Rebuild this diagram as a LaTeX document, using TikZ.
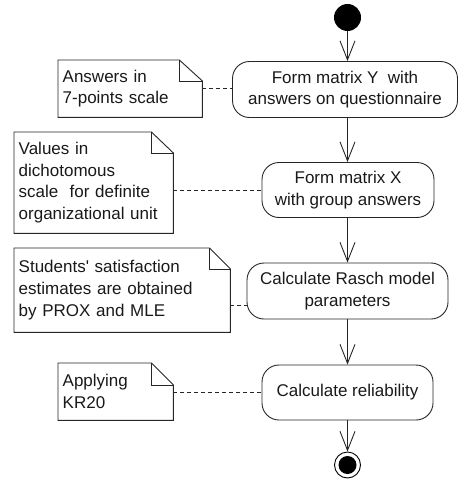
\documentclass[tikz,border=0pt]{standalone}
\usepackage{fontspec}
\setmainfont{Liberation Sans}
\usetikzlibrary{arrows.meta}
\newcommand{\dognote}[3]{%
  \draw[noteline] (#1.north west) -- ([xshift=-#2pt]#1.north east) -- ([yshift=-#3pt]#1.north east) -- (#1.south east) -- (#1.south west) -- cycle;
  \draw[noteline] ([xshift=-#2pt]#1.north east) -- ([xshift=-#2pt,yshift=-#3pt]#1.north east) -- ([yshift=-#3pt]#1.north east);
}
\begin{document}
\begin{tikzpicture}[x=1pt,y=-1pt,
  txt/.style={font=\fontsize{17pt}{21.7pt}\selectfont, text=black!90},
  actbox/.style={txt, draw=black!85, line width=0.9pt, rounded corners=17pt, align=center, inner sep=0pt},
  notebox/.style={txt, inner xsep=4.5pt, inner ysep=0pt, align=left},
  noteline/.style={draw=black!85, line width=0.9pt, line join=miter},
  flow/.style={draw=black!85, line width=0.9pt, -{Straight Barb[length=19pt,width=15pt,line width=0.9pt]}},
  link/.style={draw=black!85, line width=0.9pt, dash pattern=on 4pt off 3pt}]
\useasboundingbox (0,0) rectangle (459,479);

% start and end
\node[circle, fill=black, minimum size=27pt, inner sep=0pt] (start) at (347.5,17.5) {};
\node[circle, draw=black, line width=0.9pt, minimum size=26pt, inner sep=0pt] (end) at (347.5,465) {};
\fill[black] (end.center) circle[radius=9pt];

% activities
\node[actbox, minimum width=225pt, minimum height=56pt] (b1) at (345,89.5) {Form matrix Y\ \ with\\answers on questionnaire};
\node[actbox, minimum width=172pt, minimum height=55pt] (b2) at (348,190) {Form matrix X\\with group answers};
\node[actbox, minimum width=201pt, minimum height=56pt] (b3) at (347.5,291) {Calculate Rasch model\\parameters};
\node[actbox, minimum width=171pt, minimum height=55pt] (b4) at (347.5,392.5) {Calculate reliability};

% notes
\node[notebox, text width=135pt, minimum height=57pt, anchor=north west] (n1) at (58,60) {Answers in\\7-points scale};
\node[notebox, text width=150pt, minimum height=101pt, anchor=north west] (n2) at (14,132) {Values in\\dichotomous\\scale\ \ for definite\\organizational unit};
\node[notebox, text width=207pt, minimum height=84pt, anchor=north west] (n3) at (14,248) {Students\textquotesingle\ satisfaction\\estimates are obtained\\by PROX and MLE};
\node[notebox, text width=106pt, minimum height=57pt, anchor=north west] (n4) at (58,363) {Applying\\KR20};

\dognote{n1}{23}{21}
\dognote{n2}{22}{21}
\dognote{n3}{21}{21}
\dognote{n4}{22}{22}

% flows
\draw[flow] (start) -- (start |- b1.north);
\draw[flow] (b1.south -| start.south) -- (start.south |- b2.north);
\draw[flow] (b2.south -| start.south) -- (start.south |- b3.north);
\draw[flow] (b3.south -| start.south) -- (start.south |- b4.north);
\draw[flow] (b4.south -| start.south) -- (end);

% note links
\draw[link] (n1.east) -- (n1.east -| b1.west);
\draw[link] (b2.west -| n2.east) -- (b2.west);
\draw[link] ([yshift=-15pt]n3.east) -- ([yshift=-15pt]n3.east -| b3.west);
\draw[link] (b4.west -| n4.east) -- (b4.west);
\end{tikzpicture}
\end{document}
